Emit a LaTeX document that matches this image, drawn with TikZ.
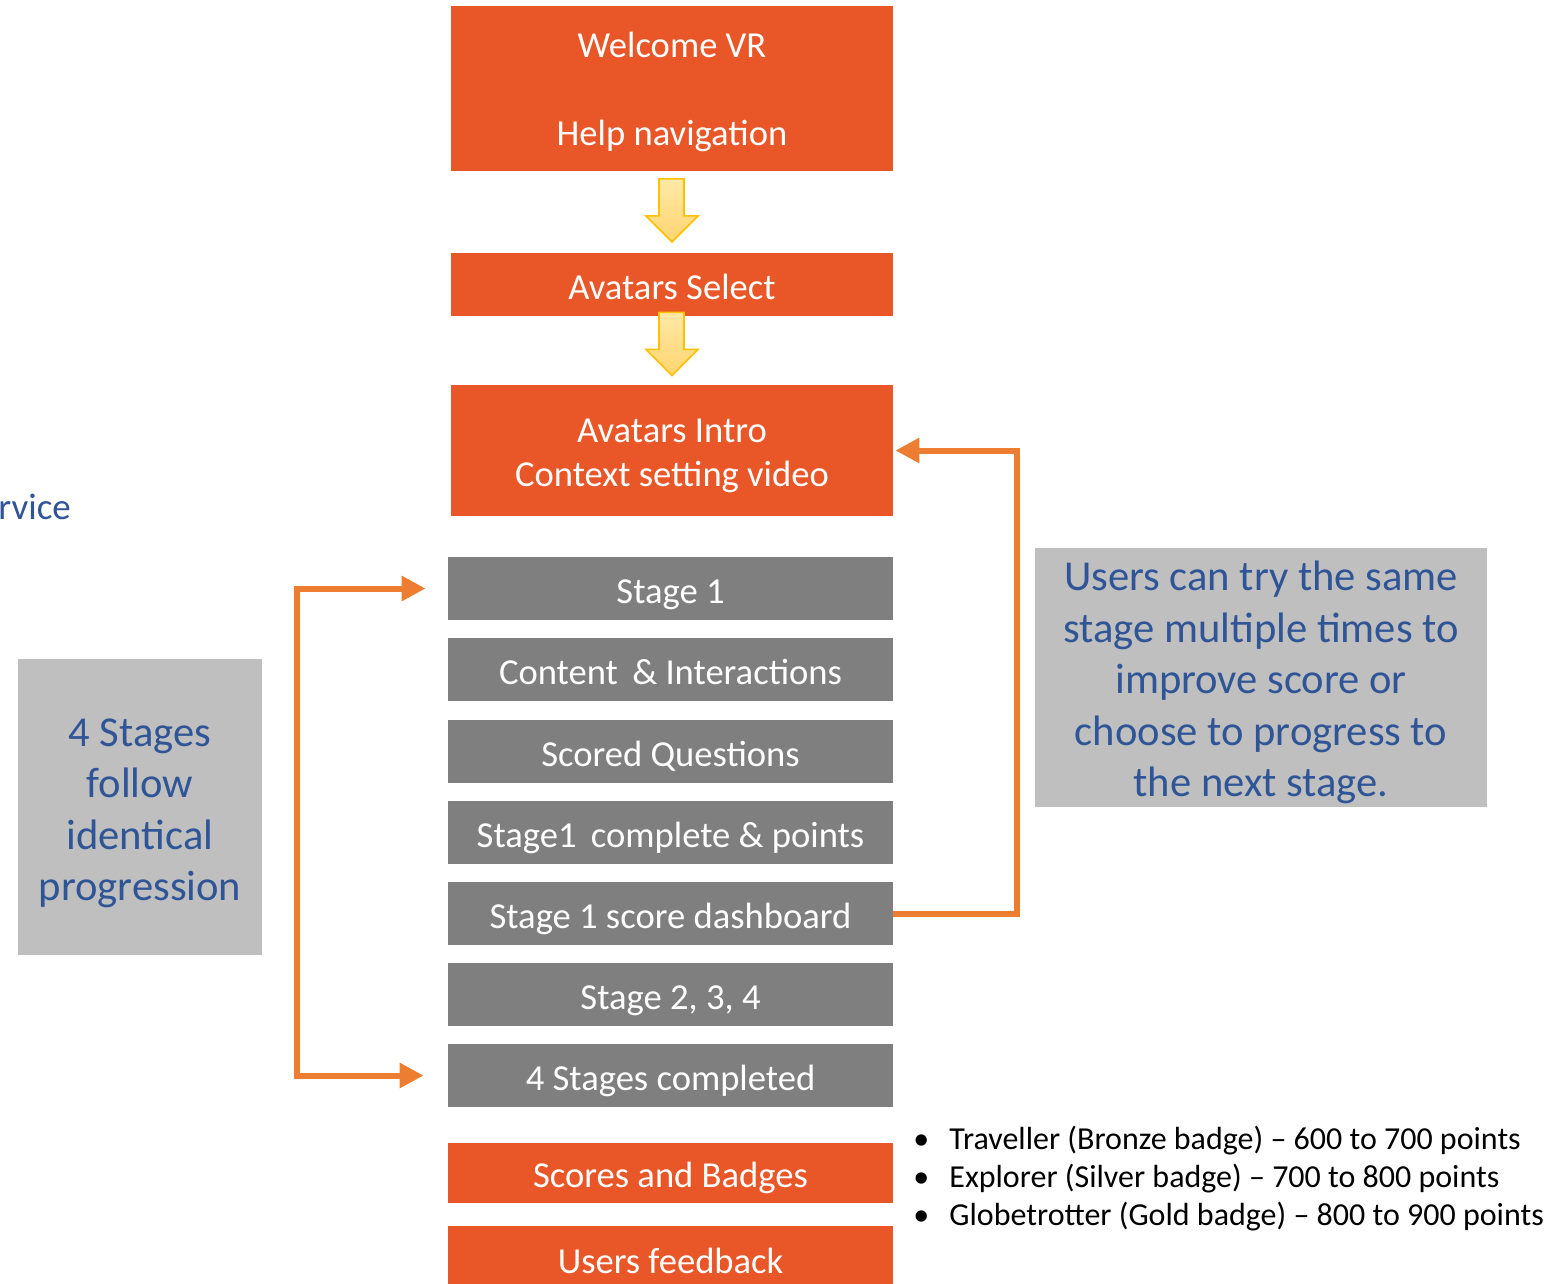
\documentclass[tikz,border=0pt]{standalone}
\usepackage{fontspec}
\setmainfont{Carlito}
\usetikzlibrary{arrows.meta,calc}
\definecolor{vrorange}{HTML}{E95628}
\definecolor{vrgray}{HTML}{7F7F7F}
\definecolor{notegray}{HTML}{BFBFBF}
\definecolor{noteblue}{HTML}{2F5597}
\definecolor{linkorange}{HTML}{ED7D31}
\definecolor{arrowedge}{HTML}{FFC000}
\definecolor{arrowtop}{HTML}{FFE9A8}
\definecolor{arrowbot}{HTML}{FFD46E}
\begin{document}
\begin{tikzpicture}[x=0.5pt,y=-0.5pt,
  boxfont/.style={font=\fontsize{18.3}{22}\selectfont},
  onelinetext/.style={text height=18pt, text depth=3.4pt},
  orangebox/.style={fill=vrorange, text=white, minimum width=221pt, inner sep=0pt, boxfont, align=center},
  graybox/.style={fill=vrgray, text=white, minimum width=222.5pt, minimum height=31.5pt,
    inner sep=0pt, boxfont, align=center, onelinetext},
  notebox/.style={fill=notegray, inner sep=0pt},
  notetext/.style={text=noteblue, inner sep=0pt, font=\fontsize{21.3}{25.75}\selectfont, align=center},
  whitetext/.style={text=white, inner sep=0pt, boxfont, align=center},
  link/.style={draw=linkorange, line width=3pt},
  ltip/.tip={Triangle[length=12pt,width=12pt]},
  yarrow/.style={draw=arrowedge, line width=0.8pt, top color=arrowtop, bottom color=arrowbot},
  pics/blockarrow/.style={code={
    \draw[yarrow] (-13,0) -- (12,0) -- (12,37) -- (26,37) -- (0,63) -- (-26,37) -- (-13,37) -- cycle;}}
]
\useasboundingbox (0,0) rectangle (1550,1283);

% main flow boxes
\node[orangebox, minimum height=82.5pt] (welcome) at (672,89) {};
\node[whitetext, yshift=-1.5pt] (welcometxt) at (welcome.center) {Welcome VR\\[22pt]Help navigation};
\node[orangebox, minimum height=31.5pt, onelinetext] (select) at (672,284.5) {Avatars Select};
\node[orangebox, minimum height=65.5pt] (intro) at (672,450.5) {};
\node[whitetext, yshift=-2.5pt] (introtxt) at (intro.center) {Avatars Intro\\Context setting video};

\node[graybox] (s1) at (670.5,588.5) {Stage 1};
\node[graybox] (content) at (670.5,669.5) {Content\, \& Interactions};
\node[graybox] (scored) at (670.5,751.5) {Scored Questions};
\node[graybox] (complete) at (670.5,832.5) {Stage1\, complete \& points};
\node[graybox] (dash) at (670.5,913.5) {Stage 1 score dashboard};
\node[graybox] (s234) at (670.5,994.5) {Stage 2, 3, 4};
\node[graybox] (done) at (670.5,1075.5) {4 Stages completed};

\node[orangebox, minimum width=222.5pt, minimum height=30pt, onelinetext] (scores) at (670.5,1173) {Scores and Badges};
\node[orangebox, minimum width=222.5pt, minimum height=33pt, onelinetext] (feedback) at (670.5,1259) {Users feedback};

% block arrows
\pic at ($(welcome.south)+(0,7)$) {blockarrow};
\pic at ($(select.south)+(0,-4)$) {blockarrow};

% notes
\node[notebox, minimum width=226pt, minimum height=129.5pt] (rnote) at (1261,677.5) {};
\node[notetext, yshift=-2.5pt] (rnotetxt) at (rnote.center)
  {Users can try the same\\stage multiple times to\\improve score or\\choose to progress to\\the next stage.};
\node[notebox, minimum width=122pt, minimum height=148pt] (lnote) at (140,807) {};
\node[notetext, yshift=-3.2pt] (lnotetxt) at (lnote.center)
  {4 Stages\\follow\\identical\\progression};

% text cut at the left edge in the reference
\node[anchor=base west, inner sep=0pt, text=noteblue, font=\fontsize{18.5}{20}\selectfont] (svc) at (-2,519) {rvice};

% bullet list
\node[anchor=west, inner sep=0pt, align=left, font=\fontsize{16}{19}\selectfont] (badges) at (913,1179)
  {\makebox[18pt][l]{•}Traveller (Bronze badge) – 600 to 700 points\\
   \makebox[18pt][l]{•}Explorer (Silver badge) – 700 to 800 points\\
   \makebox[18pt][l]{•}Globetrotter (Gold badge) – 800 to 900 points};

% orange loop connectors
\coordinate (rturn) at ($(intro.east)+(124,0)$);
\draw[link, -{ltip}, shorten >=1pt] (dash.east) -| (rturn) -- (intro.east);

\coordinate (ltop) at (297,588.5);
\coordinate (lbot) at (297,1075.5);
\draw[link, {ltip}-{ltip}, shorten <=11pt, shorten >=12pt] (s1.west) -- (ltop) -- (lbot) -- (done.west);
\end{tikzpicture}
\end{document}
